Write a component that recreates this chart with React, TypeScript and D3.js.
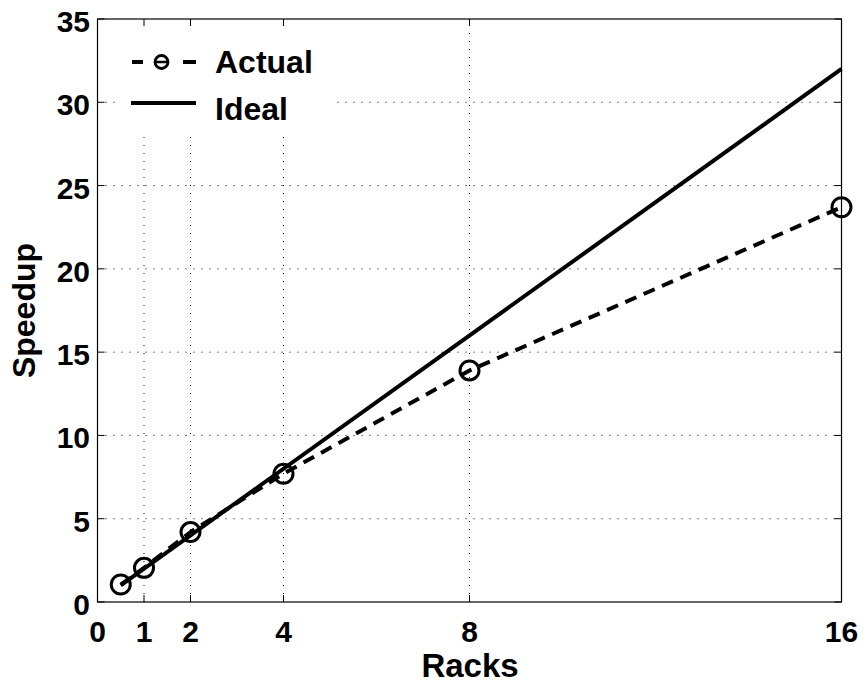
import React from "react";
import * as d3 from "d3";

const racks = [0.5, 1, 2, 4, 8, 16];
const actualSpeedup = [1.05, 2.05, 4.2, 7.7, 13.9, 23.7];
const idealRacks = [0.5, 16];
const idealSpeedup = [1, 32];
const xTicks = [0, 1, 2, 4, 8, 16];
const yTicks = [0, 5, 10, 15, 20, 25, 30, 35];

const W = 864;
const H = 686;
const L = 97.5, R = 841.5, T = 19, B = 602;

export default function App() {
  const x = d3.scaleLinear().domain([0, 16]).range([L, R]);
  const y = d3.scaleLinear().domain([0, 35]).range([B, T]);
  const line = d3.line<[number, number]>().x(d => x(d[0])).y(d => y(d[1]));
  const actualPts: [number, number][] = racks.map((r, i) => [r, actualSpeedup[i]]);
  const idealPts: [number, number][] = idealRacks.map((r, i) => [r, idealSpeedup[i]]);
  const font = "'Liberation Sans', Arial, Helvetica, sans-serif";
  const tickLen = 7;
  return (
    <svg width={W} height={H} style={{ position: "absolute", left: 0, top: 0, background: "#fff" }} fontFamily={font} fontWeight="bold">
      <rect x={0} y={0} width={W} height={H} fill="#fff" />
      {/* grid */}
      {xTicks.slice(1, -1).map(t => (
        <line key={"gx" + t} x1={x(t)} x2={x(t)} y1={B} y2={T} stroke="#000" strokeWidth={1} strokeDasharray="1,7" />
      ))}
      {yTicks.slice(1, -1).map(t => (
        <line key={"gy" + t} x1={L} x2={R} y1={y(t)} y2={y(t)} stroke="#000" strokeWidth={1} strokeDasharray="1,7" />
      ))}
      {/* legend background */}
      <rect x={120} y={22} width={217} height={113} fill="#fff" />
      {/* ticks */}
      {xTicks.map(t => (
        <g key={"tx" + t}>
          <line x1={x(t)} x2={x(t)} y1={B} y2={B - tickLen} stroke="#000" strokeWidth={1} />
          <line x1={x(t)} x2={x(t)} y1={T} y2={T + tickLen} stroke="#000" strokeWidth={1} />
          <text x={x(t)} y={642} textAnchor="middle" fontSize={30}>{t}</text>
        </g>
      ))}
      {yTicks.map(t => (
        <g key={"ty" + t}>
          <line x1={L} x2={L + tickLen} y1={y(t)} y2={y(t)} stroke="#000" strokeWidth={1} />
          <line x1={R} x2={R - tickLen} y1={y(t)} y2={y(t)} stroke="#000" strokeWidth={1} />
          <text x={90} y={y(t) + 13} textAnchor="end" fontSize={30}>{t}</text>
        </g>
      ))}
      {/* lines */}
      <path d={line(idealPts) || ""} fill="none" stroke="#000" strokeWidth={4} />
      <path d={line(actualPts) || ""} fill="none" stroke="#000" strokeWidth={4} strokeDasharray="12,8" />
      {actualPts.map((p, i) => (
        <circle key={"c" + i} cx={x(p[0])} cy={y(p[1])} r={9.5} fill="none" stroke="#000" strokeWidth={3} />
      ))}
      {/* axes box */}
      <rect x={L} y={T} width={R - L} height={B - T} fill="none" stroke="#000" strokeWidth={1.2} />
      {/* legend */}
      <line x1={132} x2={143} y1={62} y2={62} stroke="#000" strokeWidth={4} />
      <line x1={183} x2={196} y1={62} y2={62} stroke="#000" strokeWidth={4} />
      <circle cx={161.5} cy={62} r={6.5} fill="none" stroke="#000" strokeWidth={2.8} />
      <line x1={155} x2={168} y1={62} y2={62} stroke="#000" strokeWidth={2.5} />
      <text x={215} y={73} fontSize={32}>Actual</text>
      <line x1={131} x2={196} y1={103} y2={103} stroke="#000" strokeWidth={4} />
      <text x={215} y={120} fontSize={32}>Ideal</text>
      {/* axis labels */}
      <text x={470} y={677} textAnchor="middle" fontSize={33}>Racks</text>
      <text transform={`translate(35,${(T + B) / 2}) rotate(-90)`} textAnchor="middle" fontSize={32}>Speedup</text>
    </svg>
  );
}
